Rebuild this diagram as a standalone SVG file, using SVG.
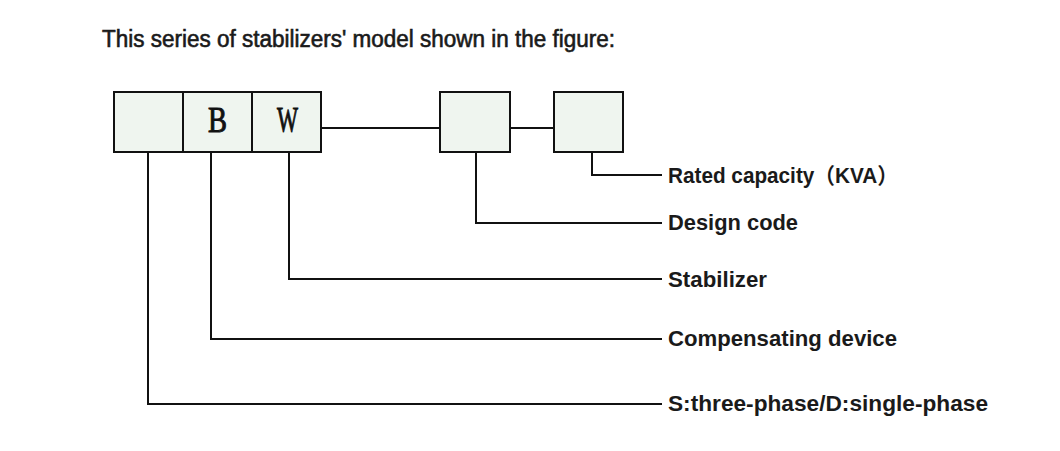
<svg xmlns="http://www.w3.org/2000/svg" width="1060" height="451" viewBox="0 0 1060 451">
<style>
.box{fill:#eff5ef;stroke:#111;stroke-width:2}
.ln{fill:none;stroke:#111;stroke-width:2}
.lbl{font-family:"Liberation Sans",Arial,sans-serif;font-weight:bold;font-size:22px;fill:#1a1a1a}
.ttl{font-family:"Liberation Sans",Arial,sans-serif;font-size:23px;fill:#1a1a1a;stroke:#1a1a1a;stroke-width:0.6}
.ser{font-family:"Liberation Serif","Times New Roman",serif;font-size:35px;fill:#111;stroke:#111;stroke-width:1}
</style>
<rect width="1060" height="451" fill="#fff"/>
<text class="ttl" x="102" y="47" textLength="513" lengthAdjust="spacingAndGlyphs">This series of stabilizers' model shown in the figure:</text>
<g id="connectors">
<path class="ln" d="M321 128H440M510 128H554"/>
<path class="ln" d="M592 152V175H662"/>
<path class="ln" d="M476 152V223H662"/>
<path class="ln" d="M289 152V279H662"/>
<path class="ln" d="M211 152V339H662"/>
<path class="ln" d="M148 152V404H662"/>
</g>
<g id="box1"><rect class="box" x="114" y="92" width="69" height="60"/></g>
<g id="box2"><rect class="box" x="183" y="92" width="69" height="60"/><text class="ser" x="208" y="132" textLength="19" lengthAdjust="spacingAndGlyphs">B</text></g>
<g id="box3"><rect class="box" x="252" y="92" width="69" height="60"/><text class="ser" x="277" y="132" textLength="21" lengthAdjust="spacingAndGlyphs">W</text></g>
<g id="box4"><rect class="box" x="440" y="92" width="70" height="60"/></g>
<g id="box5"><rect class="box" x="554" y="92" width="69" height="60"/></g>
<g id="labels">
<text class="lbl" x="668" y="183" textLength="230" lengthAdjust="spacingAndGlyphs" style="font-family:'Liberation Sans','Noto Sans CJK SC',sans-serif">Rated capacity（KVA）</text>
<text class="lbl" x="668" y="230" textLength="130" lengthAdjust="spacingAndGlyphs">Design code</text>
<text class="lbl" x="668" y="287" textLength="99" lengthAdjust="spacingAndGlyphs">Stabilizer</text>
<text class="lbl" x="668" y="346" textLength="229" lengthAdjust="spacingAndGlyphs">Compensating device</text>
<text class="lbl" x="668" y="411" textLength="320" lengthAdjust="spacingAndGlyphs">S:three-phase/D:single-phase</text>
</g>
</svg>
